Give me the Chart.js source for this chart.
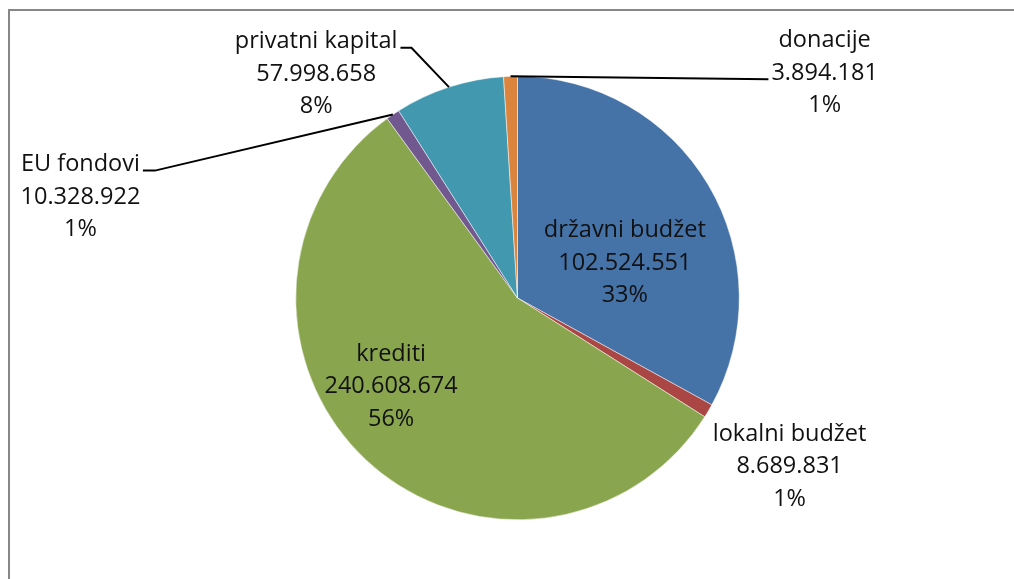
<!DOCTYPE html>
<html>
<head>
<meta charset="utf-8">
<script src="https://cdn.jsdelivr.net/npm/chart.js@4.4.1/dist/chart.umd.min.js"></script>
<style>
  html, body { margin: 0; padding: 0; background: #fff; overflow: hidden; }
  #wrap { width: 1014px; height: 579px; }
</style>
</head>
<body>
<div id="wrap"><canvas id="pieChart" width="1014" height="579"></canvas></div>
<script>
// data
const names = ["državni budžet", "lokalni budžet", "krediti", "EU fondovi", "privatni kapital", "donacije"];
const amounts = ["102.524.551", "8.689.831", "240.608.674", "10.328.922", "57.998.658", "3.894.181"];
const shares = [33, 1, 56, 1, 8, 1];

const colors = ["#4572A7", "#AA4643", "#89A54E", "#71588F", "#4198AF", "#DB843D"];
const FONT = "23.5px 'Open Sans', 'Liberation Sans', sans-serif";

// label anchors, in units of the pie radius from its centre
const labelLayout = [
  { x: 0.484, y: -0.158 },
  { x: 1.227, y: 0.761 },
  { x: -0.57, y: 0.40 },
  { x: -1.971, y: -0.455, leader: { line: 0, side: "right", run: 12 } },
  { x: -0.908, y: -1.009, leader: { line: 0, side: "right", run: 11 } },
  { x: 1.385, y: -1.014, leader: { line: 1, side: "left", run: 0 } }
];
const LINE_H = 32.5;

const framePlugin = {
  id: "frame",
  beforeDraw(chart) {
    const c = chart.ctx;
    c.save();
    c.fillStyle = "#fff";
    c.fillRect(0, 0, chart.width, chart.height);
    c.strokeStyle = "#878787";
    c.lineWidth = 2;
    c.strokeRect(9, 10, 1200, 800);
    c.restore();
  }
};

const labelPlugin = {
  id: "sliceLabels",
  afterDraw(chart) {
    const c = chart.ctx;
    const arcs = chart.getDatasetMeta(0).data;
    c.save();
    c.font = FONT;
    c.fillStyle = "#111";
    c.textAlign = "center";
    c.textBaseline = "middle";
    arcs.forEach(function (arc, i) {
      const cx = arc.x, cy = arc.y, r = arc.outerRadius;
      const lay = labelLayout[i];
      const tx = cx + lay.x * r;
      const ty = cy + lay.y * r;
      const lines = [names[i], amounts[i], shares[i] + "%"];
      lines.forEach(function (t, k) {
        c.fillText(t, tx, ty + (k - 1) * LINE_H);
      });
      if (lay.leader) {
        const mid = (arc.startAngle + arc.endAngle) / 2;
        const sx = cx + Math.cos(mid) * r;
        const sy = cy + Math.sin(mid) * r;
        const ln = lay.leader.line;
        const w = c.measureText(lines[ln]).width;
        const ly = ty + (ln - 1) * LINE_H + 6;
        let ex, ox;
        if (lay.leader.side === "right") {
          ex = tx + w / 2 + 3;
          ox = ex + lay.leader.run;
        } else {
          ex = tx - w / 2 - 3;
          ox = ex - lay.leader.run;
        }
        c.beginPath();
        c.strokeStyle = "#000";
        c.lineWidth = 2;
        c.moveTo(sx, sy);
        c.lineTo(ox, ly);
        c.lineTo(ex, ly);
        c.stroke();
      }
    });
    c.restore();
  }
};

new Chart(document.getElementById("pieChart"), {
  type: "pie",
  data: {
    labels: names,
    datasets: [
      {
        data: shares,
        backgroundColor: colors,
        borderColor: "#fff",
        borderWidth: 0.5
      }
    ]
  },
  options: {
    responsive: false,
    animation: false,
    layout: { padding: { left: 295, right: 274, top: 76, bottom: 59 } },
    plugins: {
      legend: { display: false },
      tooltip: { enabled: false }
    }
  },
  plugins: [framePlugin, labelPlugin]
});
</script>
</body>
</html>
